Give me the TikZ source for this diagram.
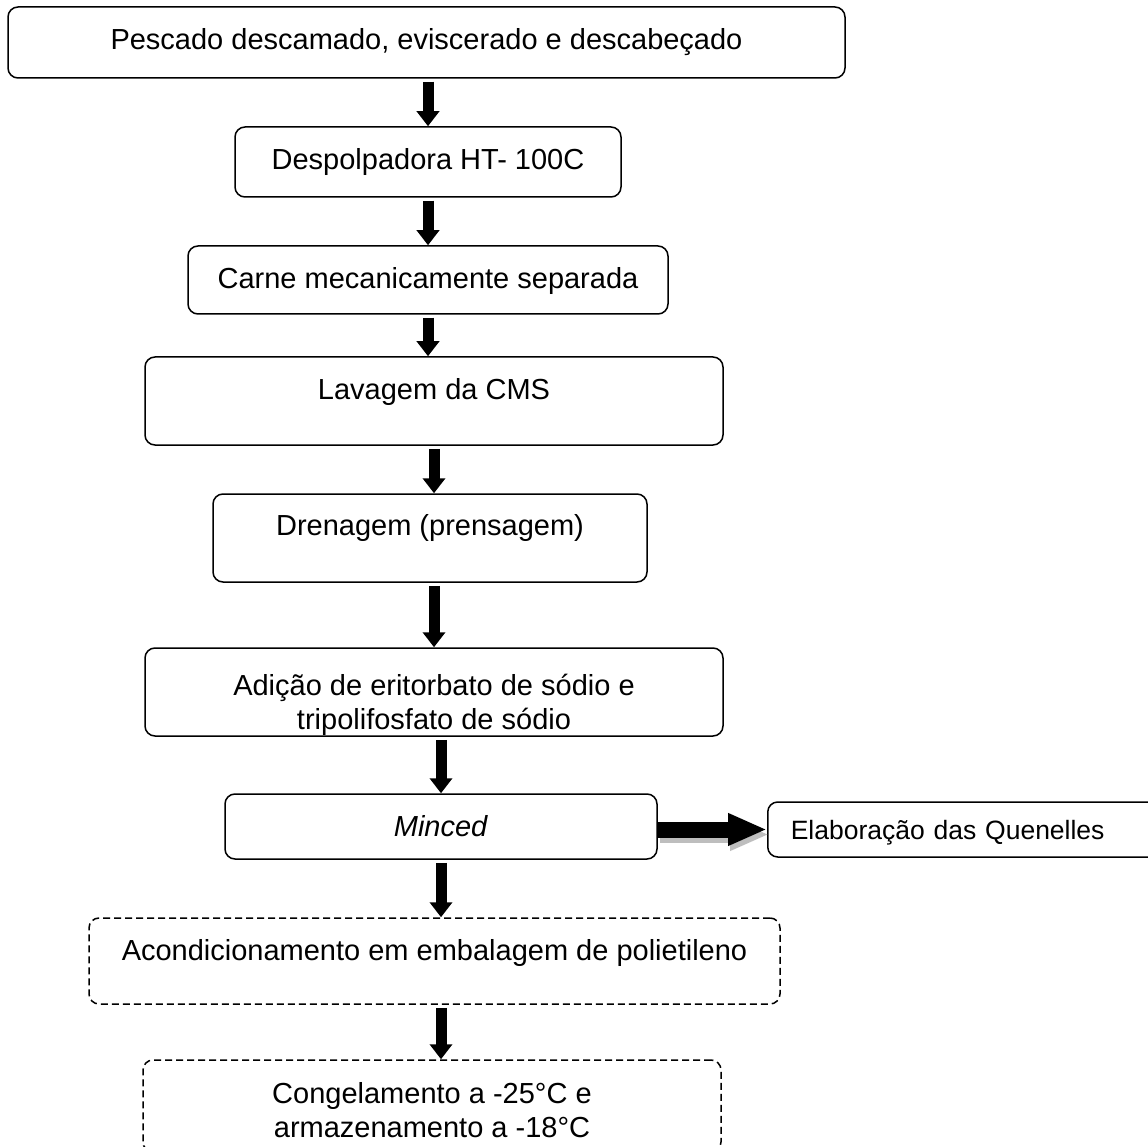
\documentclass[tikz,border=0pt]{standalone}
\usepackage{fontspec}
\setmainfont{Liberation Sans}
\usetikzlibrary{arrows.meta}
\definecolor{sombra}{RGB}{190,190,190}
\tikzset{
  etapa/.style={draw, line width=1.5pt, rounded corners=10pt, inner xsep=0pt, inner ysep=0pt,
    align=center, font=\fontsize{29}{34}\selectfont},
  opcional/.style={etapa, dash pattern=on 7pt off 4pt},
  seta/.style={line width=11pt, -{Triangle[length=15pt,width=22pt]}, shorten <=3pt},
  setalateral/.style={line width=16pt, -{Triangle[length=39pt,width=30pt]}},
}

\begin{document}
\begin{tikzpicture}[x=1pt, y=-1pt]
        \useasboundingbox (0,0) rectangle (1148,1147);
        \clip (0,0) rectangle (1148,1147);

        % Draw the processing steps
        \node[etapa, anchor=base, minimum width=837pt, text height=43pt, text depth=28pt] (pescado) at (426.5,50) {Pescado descamado, eviscerado e descabeçado};
        \node[etapa, anchor=base, minimum width=386pt, text height=43pt, text depth=27pt] (despolpadora) at (428,170) {Despolpadora HT- 100C};
        \node[etapa, anchor=base, minimum width=480pt, text height=43pt, text depth=25pt] (cms) at (428,289) {Carne mecanicamente separada};
        \node[etapa, anchor=base, minimum width=578pt, text height=42pt, text depth=46pt] (lavagem) at (434,399) {Lavagem da CMS};
        \node[etapa, anchor=base, minimum width=434pt, text height=41pt, text depth=47pt] (drenagem) at (430,535) {Drenagem (prensagem)};
        \node[etapa, anchor=base, minimum width=578pt, text height=81pt, text depth=7pt] (adicao) at (434,729) {Adição de eritorbato de sódio e\\tripolifosfato de sódio};
        \node[etapa, anchor=base, minimum width=432pt, text height=42pt, text depth=23pt] (minced) at (441,836) {\textit{Minced}};
        \node[etapa, anchor=base west, align=left, inner xsep=23pt, text width=400pt, text height=37.5pt, text depth=17.5pt,
          font=\fontsize{26.5}{31}\selectfont] (quenelles) at (767,839.5) {Elaboração das Quenelles};

        % Draw the dashed steps
        \node[opcional, anchor=base, minimum width=691pt, text height=42pt, text depth=44pt] (embalagem) at (434.5,960) {Acondicionamento em embalagem de polietileno};
        \node[opcional, anchor=base, minimum width=578pt, text height=77pt, text depth=15pt] (congelamento) at (432,1137) {Congelamento a -25°C e\\armazenamento a -18°C};

        % Draw the arrows
        \draw[seta] (pescado.south -| despolpadora.north) -- (despolpadora.north);
        \draw[seta] (despolpadora.south -| cms.north) -- (cms.north);
        \draw[seta] (cms.south) -- (cms.south |- lavagem.north);
        \draw[seta] (lavagem.south) -- (lavagem.south |- drenagem.north);
        \draw[seta] (drenagem.south -| adicao.north) -- (adicao.north);
        \draw[seta] (adicao.south -| minced.north) -- (minced.north);
        \draw[seta] (minced.south) -- (minced.south |- embalagem.north);
        \draw[seta] (embalagem.south -| minced.south) -- (congelamento.north -| minced.south);

        \draw[setalateral, sombra, transform canvas={shift={(2,5)}}] (minced.east |- quenelles.west) -- (quenelles.west);
        \draw[setalateral] (minced.east |- quenelles.west) -- (quenelles.west);
\end{tikzpicture}
\end{document}
